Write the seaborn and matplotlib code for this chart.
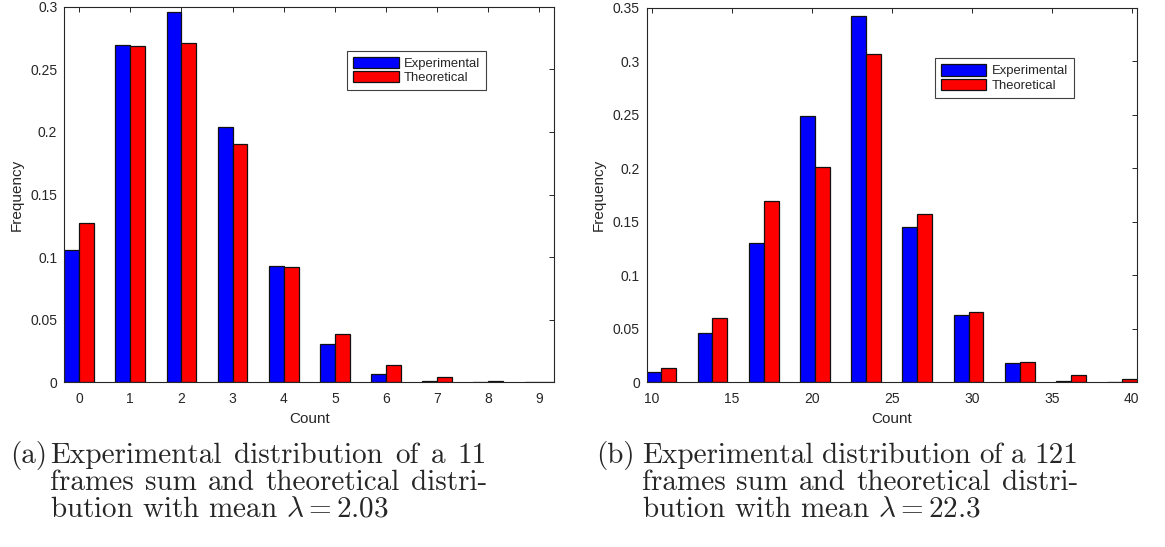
import matplotlib
matplotlib.use("Agg")
import numpy as np
import pandas as pd
import seaborn as sns
import matplotlib.pyplot as plt
from matplotlib.patches import Patch

# ---------------- data ----------------
counts_a = [0, 1, 2, 3, 4, 5, 6, 7, 8, 9]
experimental_a = [0.1055, 0.2697, 0.2960, 0.2041, 0.0927, 0.0308, 0.0070, 0.0012, 0.0, 0.0]
theoretical_a = [0.1272, 0.2684, 0.2711, 0.1907, 0.0921, 0.0388, 0.0137, 0.0040, 0.0009, 0.0002]

counts_b = [10.6, 13.8, 17.0, 20.2, 23.4, 26.6, 29.8, 33.0, 36.2, 39.4]
experimental_b = [0.0093, 0.0457, 0.1297, 0.2485, 0.3420, 0.1450, 0.0630, 0.0180, 0.0012, 0.0]
theoretical_b = [0.0130, 0.0603, 0.1690, 0.2006, 0.3070, 0.1570, 0.0660, 0.0190, 0.0068, 0.0035]

series_names = ["Experimental", "Theoretical"]
series_colors = ["#0000ff", "#ff0000"]

xticks_a = [0, 1, 2, 3, 4, 5, 6, 7, 8, 9]
xticks_b = [10, 15, 20, 25, 30, 35, 40]
yticks_a = [0, 0.05, 0.1, 0.15, 0.2, 0.25, 0.3]
ytick_labels_a = ["0", "0.05", "0.1", "0.15", "0.2", "0.25", "0.3"]
yticks_b = [0, 0.05, 0.1, 0.15, 0.2, 0.25, 0.3, 0.35]
ytick_labels_b = ["0", "0.05", "0.1", "0.15", "0.2", "0.25", "0.3", "0.35"]

caption_a = ["(a)", "Experimental distribution of a 11",
             "frames sum and theoretical distri-",
             r"bution with mean $\lambda = 2.03$"]
caption_b = ["(b)", "Experimental distribution of a 121",
             "frames sum and theoretical distri-",
             r"bution with mean $\lambda = 22.3$"]

# ---------------- style ----------------
sns.set_theme(style="white")
plt.rcParams["font.family"] = ["Liberation Sans", "DejaVu Sans"]
plt.rcParams["mathtext.fontset"] = "cm"
axcol = "#262626"

W, H = 1165, 547
fig = plt.figure(figsize=(W / 100, H / 100), dpi=100)

def px_axes(x0, x1, y0, y1):
    return fig.add_axes([x0 / W, 1 - y1 / H, (x1 - x0) / W, (y1 - y0) / H])

ax_a = px_axes(64.3, 554.3, 6.7, 382.3)
ax_b = px_axes(646.7, 1136.7, 7.5, 382.3)

palette = dict(zip(series_names, series_colors))

def make_df(counts, exp, theo):
    return pd.DataFrame({
        "Count": list(counts) * 2,
        "Frequency": list(exp) + list(theo),
        "Series": [series_names[0]] * len(counts) + [series_names[1]] * len(counts),
    })

panels = [
    (ax_a, make_df(counts_a, experimental_a, theoretical_a), (-0.29, 9.29), (0, 0.3),
     xticks_a, [str(t) for t in xticks_a], yticks_a, ytick_labels_a, (0.577, 0.883)),
    (ax_b, make_df(counts_b, experimental_b, theoretical_b), (9.69, 40.31), (0, 0.35),
     xticks_b, [str(t) for t in xticks_b], yticks_b, ytick_labels_b, (0.588, 0.864)),
]

for ax, df, xlim, ylim, xt, xtl, yt, ytl, legpos in panels:
    sns.barplot(data=df, x="Count", y="Frequency", hue="Series",
                hue_order=series_names, palette=palette, native_scale=True,
                width=0.58, errorbar=None, saturation=1, edgecolor="#111111",
                linewidth=0.9, legend=False, ax=ax)
    ax.set_xlim(*xlim)
    ax.set_ylim(*ylim)
    ax.set_xticks(xt)
    ax.set_xticklabels(xtl)
    ax.set_yticks(yt)
    ax.set_yticklabels(ytl)
    ax.tick_params(direction="in", top=True, right=True, length=3.6, width=0.7,
                   colors=axcol, labelsize=10, pad=5)
    ax.tick_params(axis="x", pad=7)
    for s in ax.spines.values():
        s.set_visible(True)
        s.set_color(axcol)
        s.set_linewidth(0.8)
    ax.set_xlabel("Count", fontsize=11, color=axcol, labelpad=4)
    ax.set_ylabel("Frequency", fontsize=11, color=axcol, labelpad=5)
    handles = [Patch(facecolor=c, edgecolor="#111111", linewidth=0.9) for c in series_colors]
    leg = ax.legend(handles, series_names, loc="upper left", bbox_to_anchor=legpos,
                    borderaxespad=0, fontsize=9.4, frameon=True, fancybox=False,
                    handlelength=3.5, handleheight=0.94, handletextpad=0.4,
                    labelspacing=0.13, borderpad=0.45)
    leg.get_frame().set_edgecolor("#404040")
    leg.get_frame().set_linewidth(0.8)
    leg.get_frame().set_alpha(1)

# ---------------- captions (justified, LaTeX-like) ----------------
cap_fs = 21
baselines = [463.0, 490.0, 516.5]
renderer = fig.canvas.get_renderer()

def put(x_px, y_px, s):
    return fig.text(x_px / W, 1 - y_px / H, s, fontsize=cap_fs, family="cmr10",
                    va="baseline", ha="left")

def justified(x0, x1, y, line):
    words = line.split(" ")
    texts = [put(x0, y, w) for w in words]
    widths = [t.get_window_extent(renderer).width for t in texts]
    gap = (x1 - x0 - sum(widths)) / (len(words) - 1)
    x = x0
    for t, w in zip(texts, widths):
        t.set_x(x / W)
        x += w + gap

for cap, xl, xt, xr in [(caption_a, 10, 50, 487), (caption_b, 596, 642, 1078)]:
    put(xl, baselines[0], cap[0])
    justified(xt, xr, baselines[0], cap[1])
    justified(xt, xr, baselines[1], cap[2])
    put(xt, baselines[2], cap[3])

fig.savefig("out.png", dpi=100)
